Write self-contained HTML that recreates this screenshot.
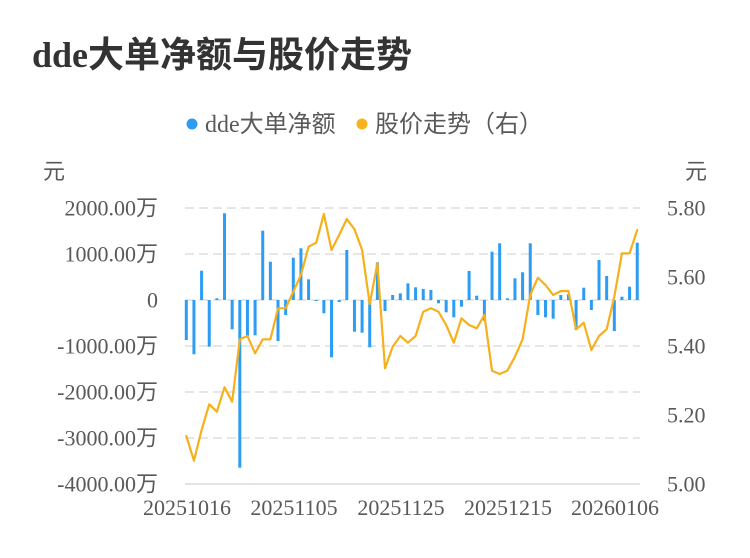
<!DOCTYPE html>
<html>
<head>
<meta charset="utf-8">
<style>
  html, body { margin: 0; padding: 0; background: #ffffff; }
  body { width: 750px; height: 558px; overflow: hidden; }
  svg { display: block; }
  .t { font-family: "Liberation Serif", "Noto Sans CJK SC", serif; }
</style>
</head>
<body>
<svg width="750" height="558" viewBox="0 0 750 558" xmlns="http://www.w3.org/2000/svg">
  <rect width="750" height="558" fill="#ffffff"/>

  <!-- Title -->
  <text class="t" x="32" y="67" font-size="36" font-weight="bold" fill="#333333" style="font-family:'Liberation Serif','Noto Sans CJK SC',serif;">dde大单净额与股价走势</text>

  <!-- Legend -->
  <circle cx="192" cy="124" r="5.5" fill="#2d9cf3"/>
  <text class="t" x="205" y="132" font-size="24" fill="#595959">dde大单净额</text>
  <circle cx="362" cy="124" r="5.5" fill="#f8b31c"/>
  <text class="t" x="375" y="132" font-size="24" fill="#595959">股价走势（右）</text>

  <!-- Axis unit labels -->
  <text class="t" x="43" y="179" font-size="22" fill="#595959">元</text>
  <text class="t" x="685" y="179" font-size="22" fill="#595959">元</text>

  <!-- Grid lines -->
  <g stroke="#e6e6e6" stroke-width="2" stroke-dasharray="9 5" fill="none">
    <line x1="185" y1="208" x2="640" y2="208"/>
    <line x1="185" y1="254" x2="640" y2="254"/>
    <line x1="185" y1="300" x2="640" y2="300"/>
    <line x1="185" y1="346" x2="640" y2="346"/>
    <line x1="185" y1="392" x2="640" y2="392"/>
    <line x1="185" y1="438" x2="640" y2="438"/>
  </g>
  <line x1="185" y1="484" x2="640" y2="484" stroke="#e3e3e3" stroke-width="2"/>

  <!-- Left axis labels -->
  <g class="t" font-size="22" fill="#595959" text-anchor="end">
    <text x="158" y="215.5">2000.00万</text>
    <text x="158" y="261.5">1000.00万</text>
    <text x="158" y="307.5">0</text>
    <text x="158" y="353.5">-1000.00万</text>
    <text x="158" y="399.5">-2000.00万</text>
    <text x="158" y="445.5">-3000.00万</text>
    <text x="158" y="491.5">-4000.00万</text>
  </g>

  <!-- Right axis labels -->
  <g class="t" font-size="22" fill="#595959" text-anchor="start">
    <text x="667" y="215.5">5.80</text>
    <text x="667" y="284.5">5.60</text>
    <text x="667" y="353.5">5.40</text>
    <text x="667" y="422.5">5.20</text>
    <text x="667" y="491.5">5.00</text>
  </g>

  <!-- X axis labels -->
  <g class="t" font-size="22" fill="#595959" text-anchor="middle">
    <text x="187" y="515">20251016</text>
    <text x="294" y="515">20251105</text>
    <text x="401" y="515">20251125</text>
    <text x="508" y="515">20251215</text>
    <text x="615" y="515">20260106</text>
  </g>

  <!-- Bars -->
  <g id="bars" fill="#2d9cf3"></g>
  <!-- Line -->
  <polyline id="line" fill="none" stroke="#f6b01c" stroke-width="2.2" stroke-linejoin="round" stroke-linecap="round" points=""/>

  <script>
    (function(){
      var bars=[340,354.3,270.7,346.7,298.3,213.3,329.3,467.7,336,335.3,230.7,261.7,341,315,257.7,248.3,279.3,301,313.3,357.3,302,250,331.7,332.7,347.3,262.3,311,295,293.3,283.3,287.3,289,290,303.3,312.3,317.3,306.7,271,295.7,320.7,251.7,243.3,298.3,278.3,272.3,243.3,315,317.3,318.7,295,294.3,330,287.7,310,260,276,331,296.7,286.7,242.7];
      var line=[436,460.7,430,404.3,411.7,387.3,401.7,339.3,336,353.3,339.3,339.3,308.3,308.3,291.7,275,246.7,242.7,214,250,235,219,229.3,250,304,263.3,368.3,346.7,336,342.7,336,311.7,308.3,311.7,325,342.7,318.3,325,328.3,315,370.7,374,370.7,356.7,339.3,295,277.7,285,295,291,291,329.3,322.7,350,336,329.3,296.7,253.3,253.3,230];
      var ns="http://www.w3.org/2000/svg";
      var g=document.getElementById("bars");
      var pts=[];
      for(var i=0;i<60;i++){
        var x=186.3+7.643*i;
        var y=bars[i];
        var top=Math.min(300,y), h=Math.abs(y-300);
        if(h<1)h=1;
        var r=document.createElementNS(ns,"rect");
        r.setAttribute("x",(x-1.5).toFixed(2));
        r.setAttribute("y",top.toFixed(2));
        r.setAttribute("width","3");
        r.setAttribute("height",h.toFixed(2));
        g.appendChild(r);
        pts.push(x.toFixed(2)+","+line[i]);
      }
      document.getElementById("line").setAttribute("points",pts.join(" "));
    })();
  </script>
</svg>
</body>
</html>
